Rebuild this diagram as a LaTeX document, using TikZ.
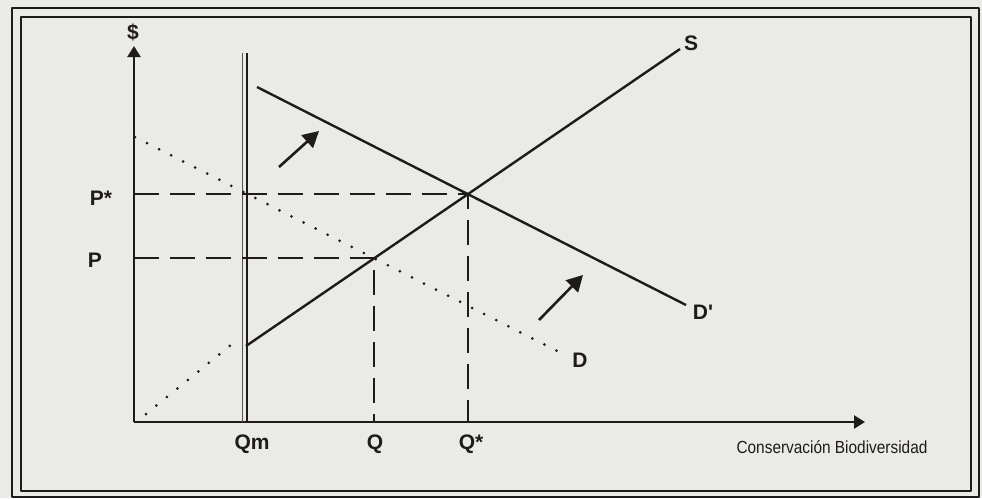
\documentclass[tikz,border=0pt]{standalone}
\usepackage{fontspec}
\setmainfont{Liberation Sans}
\usetikzlibrary{arrows.meta}
\definecolor{paper}{RGB}{234,234,232}
\definecolor{ink}{RGB}{30,28,26}
\begin{document}
\begin{tikzpicture}[x={(1pt,0)}, y={(0,-1pt)}, >={Triangle[length=11pt,width=13pt]}, line join=round, line cap=butt,
		lbl/.style={font=\fontsize{21}{25}\selectfont\bfseries, text=ink, inner sep=0pt},
		curve/.style={ink, line width=2.4pt},
		guide/.style={ink, line width=2.4pt, dash pattern=on 25pt off 11pt},
		dots/.style={ink, line width=3pt, line cap=round, dash pattern=on 0pt off 13.5pt},
		shiftarrow/.style={ink, line width=2.6pt, -{Triangle[length=16pt,width=17pt]}}]
	\def\W{982} \def\H{498}
	\fill[paper] (0,0) rectangle (\W,\H);
	\useasboundingbox (0,0) rectangle (\W,\H);
	% frame
	\draw[ink, line width=1.5pt] (12,8) rectangle (979,497);
	\draw[ink, line width=1.5pt] (21,17) rectangle (971,491);
	%\draw[gray!50, dashed] (0,0) grid[step=50] (\W,\H);
	% key points
	\coordinate (O) at (134,422);
	\coordinate (ytip) at (134,46);
	\coordinate (xtip) at (865,422);
	\coordinate (Qmtop) at (247,53);
	\coordinate (Qmbot) at (247,422);
	\coordinate (S0) at (146,414);
	\coordinate (S1) at (246,346);
	\coordinate (S2) at (680,49);
	\coordinate (Dp1) at (257,87);
	\coordinate (Dp2) at (686,305);
	\coordinate (D1) at (135,137);
	\coordinate (D2) at (565,355);
	\coordinate (Estar) at (468,194);
	\coordinate (E) at (374,258);
	% axes
	\draw[ink, line width=2.4pt, ->] (O)--(ytip);
	\draw[ink, line width=2.4pt, ->] (O)--(xtip);
	% minimum quantity Qm
	\draw[ink, line width=2.6pt] (Qmtop)--(Qmbot);
	\draw[ink!75, line width=1.2pt] ([xshift=-4.5]Qmtop)--([xshift=-4.5]Qmbot);
	% guides
	\draw[guide] (O|-Estar)--(Estar)--(Estar|-O);
	\draw[guide] (O|-E)--(E)--(E|-O);
	% curves
	\draw[dots] (S0)--([xshift=-9,yshift=6]S1);
	\draw[curve] (S1)--(S2);
	\draw[curve] (Dp1)--(Dp2);
	\draw[dots] (D1)--(D2);
	% shifts of demand
	\draw[shiftarrow] (279,167)--(319,131);
	\draw[shiftarrow] (539,320)--(583,275);
	% labels
	\node[lbl] (ylab) at (133,32) {\$};
	\node[lbl] (Pslab) at (101,198) {P*};
	\node[lbl] (Plab) at (95,260) {P};
	\node[lbl] (Qmlab) at (252,444) {Qm};
	\node[lbl] (Qlab) at (375,444) {Q};
	\node[lbl] (Qslab) at (471,444) {Q*};
	\node[lbl] (Slab) at (691,43) {S};
	\node[lbl] (Dplab) at (703,312) {D\textquotesingle};
	\node[lbl] (Dlab) at (580,360) {D};
	\node[font=\fontsize{17.5}{21}\selectfont, text=ink, inner sep=0pt] (xlab) at (832,447) {\scalebox{0.88}[1]{Conservación Biodiversidad}};
\end{tikzpicture}
\end{document}
